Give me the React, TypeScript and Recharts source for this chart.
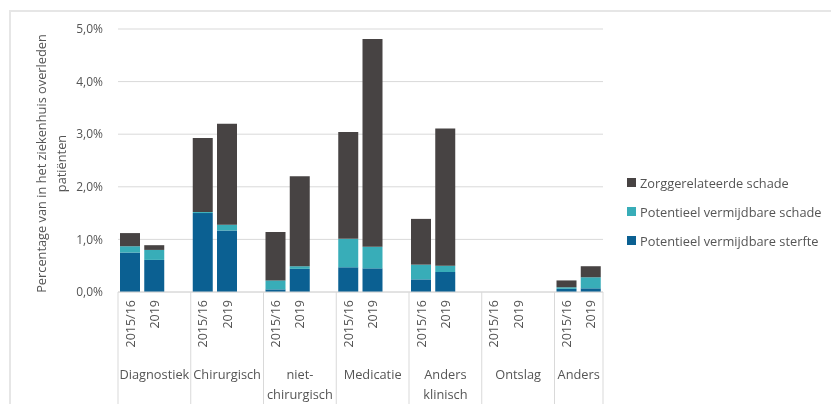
import {BarChart, Bar, XAxis, YAxis, CartesianGrid} from 'recharts';

const groups = ['Diagnostiek', 'Chirurgisch', 'niet-\nchirurgisch', 'Medicatie', 'Anders\nklinisch', 'Ontslag', 'Anders'];
const years = ['2015/16', '2019'];

// per group: [2015/16, 2019], in %
const sterfte = [0.75, 0.61, 1.50, 1.17, 0.05, 0.44, 0.47, 0.45, 0.24, 0.38, 0, 0, 0.06, 0.07];
const schade = [0.12, 0.19, 0.02, 0.11, 0.17, 0.05, 0.54, 0.41, 0.28, 0.12, 0, 0, 0.03, 0.21];
const zorg = [0.25, 0.09, 1.41, 1.92, 0.92, 1.71, 2.03, 3.95, 0.87, 2.61, 0, 0, 0.13, 0.21];

const yTicks = [0, 1, 2, 3, 4, 5];

const SERIES = [
    {key: 'sterfte', name: 'Potentieel vermijdbare sterfte', color: '#0b6092'},
    {key: 'schade', name: 'Potentieel vermijdbare schade', color: '#38adb8'},
    {key: 'zorg', name: 'Zorggerelateerde schade', color: '#474343'},
];

type Row = {
    key: string;
    year: string;
    group: string;
    first: boolean;
    size: number;
    sterfte: number;
    schade: number;
    zorg: number;
};

const rows: Row[] = [];
groups.forEach((g, gi) => {
    const last = gi === groups.length - 1;
    years.forEach((y, yi) => {
        const i = gi * 2 + yi;
        rows.push({
            key: `${gi}-${y}`,
            year: y,
            group: g,
            first: yi === 0,
            size: last ? 2 : 3,
            sterfte: sterfte[i],
            schade: schade[i],
            zorg: zorg[i],
        });
    });
    if (!last) {
        rows.push({key: `gap-${gi}`, year: '', group: '', first: false, size: 0, sterfte: 0, schade: 0, zorg: 0});
    }
});

const rowByKey: Record<string, Row> = {};
rows.forEach(r => (rowByKey[r.key] = r));

const W = 815;
const H = 396;
const MARGIN = {top: 21, right: 220, bottom: 0, left: 0};
const Y_W = 110;
const X_H = 112;
const SLOT = (W - MARGIN.left - MARGIN.right - Y_W) / rows.length;

const TEXT = '#555555';
const LINE = '#d9d9d9';
const FONT = '"Open Sans", sans-serif';

const fmt = (v: number) => v.toFixed(1).replace('.', ',') + '%';

const XTick = (props: any) => {
    const {x, y, payload} = props;
    const row = rowByKey[payload.value];
    if (!row || !row.year) return null;
    const lines = row.group.split('\n');
    const cx = row.size === 3 ? x + SLOT : x + SLOT / 2;
    return (
        <g>
            <text
                x={x}
                y={y + 8}
                dy="0.35em"
                textAnchor="end"
                transform={`rotate(-90, ${x}, ${y + 8})`}
                fill={TEXT}
                fontSize={12.5}
                fontFamily={FONT}
            >
                {row.year}
            </text>
            {row.first && (
                <>
                    <line x1={x - SLOT / 2} x2={x - SLOT / 2} y1={y} y2={y + 125} stroke={LINE}/>
                    {row.size === 2 && (
                        <line x1={x + SLOT * 1.5} x2={x + SLOT * 1.5} y1={y} y2={y + 125} stroke={LINE}/>
                    )}
                    <text x={cx} y={y + 87} textAnchor="middle" fill={TEXT} fontSize={12.8} fontFamily={FONT}>
                        {lines.map((l, i) => (
                            <tspan key={i} x={cx} dy={i === 0 ? 0 : 20}>{l}</tspan>
                        ))}
                    </text>
                </>
            )}
        </g>
    );
};

const YLabel = (props: any) => {
    const vb = props.viewBox || {x: 0, y: MARGIN.top, width: Y_W, height: H - MARGIN.top - X_H};
    const cy = vb.y + vb.height / 2 + 3;
    const lines = ['Percentage van in het ziekenhuis overleden', 'patiënten'];
    return (
        <g>
            {lines.map((l, i) => {
                const lx = 38 + i * 20;
                return (
                    <text
                        key={i}
                        x={lx}
                        y={cy}
                        textAnchor="middle"
                        transform={`rotate(-90, ${lx}, ${cy})`}
                        fill={TEXT}
                        fontSize={12.8}
                        fontFamily={FONT}
                    >
                        {l}
                    </text>
                );
            })}
        </g>
    );
};

const LegendBox = () => (
    <div style={{position: 'absolute', left: 619, top: 160, fontFamily: FONT, fontSize: 12.8, color: TEXT}}>
        {[...SERIES].reverse().map(s => (
            <div key={s.key} style={{display: 'flex', alignItems: 'center', height: 29, whiteSpace: 'nowrap'}}>
                <span style={{width: 9, height: 9, background: s.color, marginRight: 4, display: 'inline-block'}}/>
                {s.name}
            </div>
        ))}
    </div>
);

export default function App() {
    return (
        <div style={{position: 'relative', width: W, height: H}}>
            <div
                style={{
                    position: 'fixed',
                    left: 9,
                    top: 10,
                    right: -10,
                    bottom: -10,
                    border: '2px solid #e6e6e6',
                    pointerEvents: 'none',
                }}
            />
            <BarChart width={W} height={H} data={rows} margin={MARGIN} barSize={20}>
                <CartesianGrid vertical={false} stroke={LINE}/>
                <XAxis
                    dataKey="key"
                    interval={0}
                    height={X_H}
                    tickLine={false}
                    tickSize={0}
                    tickMargin={0}
                    axisLine={{stroke: LINE}}
                    tick={<XTick/>}
                />
                <YAxis
                    domain={[0, 5]}
                    ticks={yTicks}
                    width={Y_W}
                    axisLine={false}
                    tickLine={false}
                    tickSize={0}
                    tickMargin={15}
                    tickFormatter={fmt}
                    tick={{fill: TEXT, fontSize: 12, fontFamily: FONT}}
                    label={{content: <YLabel/>}}
                />
                {SERIES.map(s => (
                    <Bar key={s.key} dataKey={s.key} name={s.name} stackId="a" fill={s.color} isAnimationActive={false}/>
                ))}
            </BarChart>
            <LegendBox/>
        </div>
    );
}
